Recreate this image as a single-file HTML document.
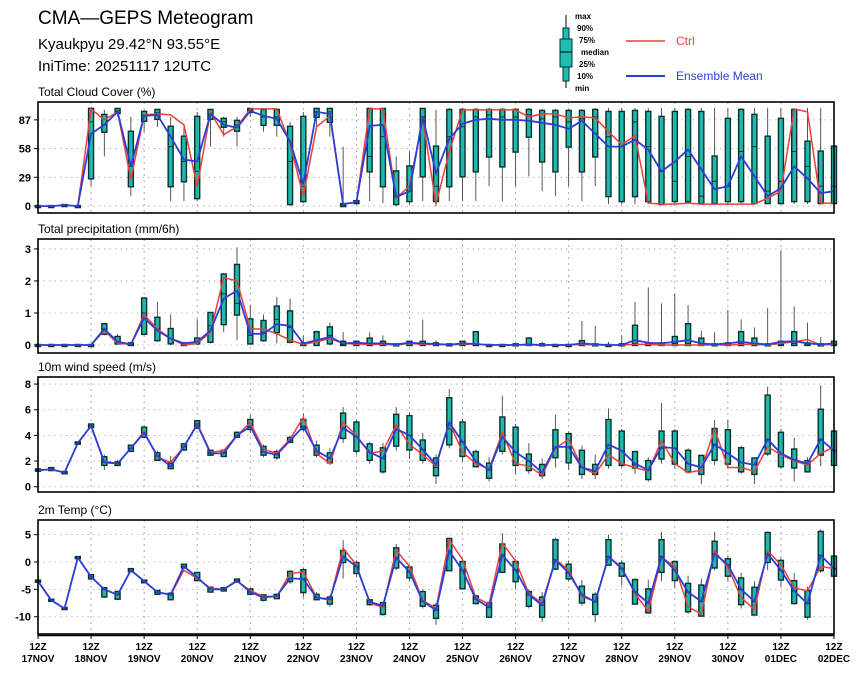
<!DOCTYPE html>
<html><head><meta charset="utf-8">
<style>
html,body{margin:0;padding:0;background:#fff;}
svg{display:block;font-family:"Liberation Sans",sans-serif;}
</style></head>
<body>
<svg id="chart" width="860" height="673" viewBox="0 0 860 673" xmlns="http://www.w3.org/2000/svg">
<text x="38" y="24" font-size="19" fill="#000">CMA—GEPS Meteogram</text>
<text x="38" y="49" font-size="15" fill="#000">Kyaukpyu 29.42°N 93.55°E</text>
<text x="38" y="71" font-size="15" fill="#000">IniTime: 20251117 12UTC</text>
<g>
<line x1="566" y1="15" x2="566" y2="88" stroke="#000" stroke-width="1"/>
<rect x="563" y="28" width="6" height="53" fill="#1fbcb2" stroke="#033" stroke-width="1"/>
<rect x="560" y="39" width="12" height="28" fill="#1fbcb2" stroke="#033" stroke-width="1"/>
<line x1="560" y1="52" x2="572" y2="52" stroke="#000"/>
<text x="575" y="19" font-size="8" font-weight="bold">max</text>
<text x="577" y="31" font-size="8" font-weight="bold">90%</text>
<text x="579" y="43" font-size="8" font-weight="bold">75%</text>
<text x="581" y="55" font-size="8" font-weight="bold">median</text>
<text x="579" y="67" font-size="8" font-weight="bold">25%</text>
<text x="577" y="79" font-size="8" font-weight="bold">10%</text>
<text x="575" y="91" font-size="8" font-weight="bold">min</text>
</g>
<g>
<line x1="626" y1="41" x2="665" y2="41" stroke="#e8403a" stroke-width="1.5"/>
<text x="676" y="45" font-size="12" fill="#e8403a">Ctrl</text>
</g>
<g>
<line x1="626" y1="76" x2="665" y2="76" stroke="#2a3fd8" stroke-width="2"/>
<text x="676" y="80" font-size="12" fill="#2a3fd8">Ensemble Mean</text>
</g>
<g id="panels"></g>
</svg>
<script>
// ---------- DATA ----------
const xLabels = ["17NOV","18NOV","19NOV","20NOV","21NOV","22NOV","23NOV","24NOV","25NOV","26NOV","27NOV","28NOV","29NOV","30NOV","01DEC","02DEC"];
// Total cloud cover (%)
const cloudCtrl = [0,0,1,0,98,87,95,27,92,93,92,82,20,95,72,80,98,98,98,63,10,80,91,2,4,98,98,8,20,88,2,55,97,97,97,97,97,90,93,93,89,90,89,75,62,71,3,2,2,3,2,2,2,2,2,8,15,98,95,3,3];
const cloudMean = [0,0,1,0,73,82,95,40,91,92,70,47,45,93,82,79,96,91,88,65,22,95,93,2,4,81,82,9,15,90,33,68,83,87,88,87,87,86,84,82,78,86,73,60,60,67,57,35,45,57,37,17,20,50,30,10,18,40,28,13,15];
const cloudMin = [0,0,1,0,20,50,90,10,75,80,5,5,5,60,70,60,90,75,70,0,3,80,70,0,2,5,3,0,2,5,0,5,5,5,20,5,20,30,15,10,20,5,20,2,2,2,2,2,2,2,2,2,2,2,2,2,2,2,2,2,2];
const cloudP25 = [0,0,1,0,28,75,94,20,86,88,20,25,8,88,80,76,95,82,82,2,5,90,85,0,3,35,20,2,5,30,5,20,30,35,50,40,55,70,45,35,60,35,50,10,5,10,5,2,5,5,3,3,5,5,3,3,3,5,5,3,3];
const cloudMed = [0,0,1,0,85,82,96,40,92,94,60,45,35,92,85,82,97,90,90,45,20,95,95,1,4,50,70,10,15,90,20,70,80,90,92,90,90,92,88,90,85,88,90,70,60,85,60,35,25,50,10,25,20,55,60,15,25,55,40,20,20];
const cloudP75 = [0,0,1,0,98,92,98,75,95,97,80,70,90,97,88,86,98,97,97,80,90,98,98,2,5,98,98,35,40,98,60,97,97,97,97,97,97,97,96,96,96,96,97,95,95,96,95,90,95,97,95,50,88,97,92,70,88,97,65,55,60];
const cloudMax = [0,0,1,0,100,97,99,90,97,98,90,80,95,98,90,90,99,99,99,85,95,99,99,60,5,99,99,50,55,99,97,99,99,99,99,99,99,99,98,98,98,98,99,99,99,99,99,99,99,99,99,99,99,99,99,99,99,99,99,99,99];
// Total precipitation (mm/6h)
const precCtrl = [0,0,0,0,0,0.45,0.05,0.02,0.95,0.5,0.2,0,0.05,0.4,2.1,2.0,0.5,0.5,0.35,0.15,0.02,0.1,0.2,0.05,0.03,0.02,0.02,0,0.05,0.02,0.02,0.01,0.02,0.03,0,0,0,0,0,0,0,0.02,0,0,0,0.02,0.02,0,0,0,0,0,0,0.02,0.02,0,0.05,0.1,0.17,0,0.02];
const precMean = [0,0,0,0,0,0.5,0.1,0.02,0.85,0.45,0.2,0.05,0.1,0.45,1.45,1.7,0.35,0.35,0.65,0.6,0.05,0.15,0.25,0.05,0.07,0.05,0.05,0.02,0.07,0.05,0.03,0.01,0.05,0.03,0,0,0,0.02,0,0,0,0.05,0.02,0,0,0.15,0.07,0.05,0.1,0.15,0.05,0.02,0.05,0.1,0.05,0.02,0.1,0.12,0.05,0.02,0.05];
const precMin = [0,0,0,0,0,0.3,0,0,0.3,0.1,0,0,0,0.05,0.4,0.15,0,0.1,0.05,0.05,0,0,0,0,0,0,0,0,0,0,0,0,0,0,0,0,0,0,0,0,0,0,0,0,0,0,0,0,0,0,0,0,0,0,0,0,0,0,0,0,0];
const precP25 = [0,0,0,0,0,0.35,0.05,0,0.35,0.15,0.05,0,0.05,0.1,0.65,0.95,0.05,0.15,0.4,0.1,0,0,0.05,0,0,0,0,0,0,0,0,0,0,0,0,0,0,0,0,0,0,0,0,0,0,0,0,0,0,0,0,0,0,0,0,0,0,0,0,0,0];
const precMed = [0,0,0,0,0,0.5,0.1,0.02,1.0,0.5,0.2,0.02,0.1,0.6,1.6,1.3,0.3,0.4,0.8,0.55,0.02,0.15,0.3,0.02,0.05,0.05,0.02,0,0.05,0.02,0.02,0,0.05,0.02,0,0,0,0.02,0,0,0,0.02,0,0,0,0.05,0.02,0,0.05,0.05,0.02,0,0.02,0.05,0.02,0,0.02,0.05,0,0,0.02];
const precP75 = [0,0,0,0,0,0.65,0.25,0.05,1.45,0.85,0.5,0.05,0.2,1.0,2.2,2.5,0.8,0.75,1.2,1.05,0.05,0.4,0.55,0.1,0.1,0.2,0.1,0.02,0.1,0.1,0.05,0.02,0.1,0.4,0,0,0.02,0.2,0.02,0,0,0.12,0.02,0,0.02,0.6,0.05,0.05,0.25,0.65,0.2,0.02,0.05,0.4,0.2,0.02,0.1,0.4,0.05,0.02,0.1];
const precMax = [0,0,0,0,0,0.7,0.35,0.1,1.5,1.35,0.95,0.1,0.8,1.0,2.25,3.05,1.25,0.95,1.5,1.45,0.3,0.45,0.7,0.4,0.1,0.4,0.3,0.05,0.1,0.8,0.15,0.05,0.1,0.4,0.02,0.02,0.05,0.25,0.1,0.02,0.05,0.75,0.6,0.1,0.3,1.35,1.8,1.3,1.6,1.25,0.45,0.4,1.1,0.8,0.55,1.15,2.95,1.2,0.7,0.25,0.1];
// 10m wind speed (m/s)
const windCtrl = [1.3,1.35,1.1,3.4,4.75,2.0,1.8,3.0,4.3,2.3,1.9,3.1,4.9,2.7,2.8,4.0,5.0,2.9,2.6,3.7,5.4,2.6,1.8,5.0,4.0,2.6,2.8,4.8,3.3,2.5,1.6,5.0,2.7,1.8,1.4,4.2,1.8,1.6,0.9,3.0,3.7,1.5,1.0,2.5,1.8,1.5,1.2,3.6,1.8,1.1,1.3,4.5,1.5,1.5,1.2,3.1,2.5,2.0,1.7,2.6,3.1];
const windMean = [1.3,1.35,1.1,3.4,4.75,1.9,1.8,3.0,4.2,2.4,1.6,3.1,4.85,2.6,2.6,4.0,4.7,2.7,2.5,3.6,4.7,2.8,2.2,4.6,3.9,2.7,2.2,4.5,4.0,2.9,1.7,5.0,3.5,2.0,1.3,3.9,2.7,2.0,1.1,3.1,3.1,1.5,1.2,3.3,2.8,1.8,1.3,3.1,3.0,1.8,1.5,3.3,2.6,1.9,1.7,3.7,2.6,2.1,1.8,3.7,2.8];
const windMin = [1.2,1.2,1.0,3.3,4.6,1.3,1.6,2.7,3.8,2.0,1.4,2.8,4.5,2.4,2.3,3.8,4.2,2.3,2.1,3.4,4.3,2.3,1.7,3.4,2.5,1.8,1.0,2.8,2.2,1.8,0.2,3.0,2.0,1.5,0.4,2.5,1.0,1.0,0.6,1.5,1.3,0.6,0.6,1.4,1.5,1.0,0.4,1.8,1.4,1.0,0.2,1.7,1.4,1.0,0.2,2.4,1.4,0.4,1.1,1.6,1.6];
const windP25 = [1.25,1.3,1.05,3.35,4.65,1.7,1.7,2.8,3.9,2.1,1.45,2.9,4.6,2.5,2.4,3.9,4.5,2.5,2.3,3.5,4.5,2.5,1.9,3.8,2.8,2.1,1.2,3.2,2.9,2.1,0.9,3.3,2.4,1.6,0.7,2.8,1.7,1.3,0.9,2.3,1.9,1.0,1.0,1.7,1.7,1.5,0.6,2.2,1.8,1.2,1.0,2.1,1.8,1.2,1.0,2.6,1.6,1.5,1.2,2.5,1.7];
const windMed = [1.3,1.35,1.1,3.4,4.75,1.9,1.8,3.0,4.2,2.4,1.6,3.1,4.9,2.6,2.6,4.0,4.7,2.7,2.5,3.6,4.7,2.7,2.2,4.6,3.9,2.7,2.2,4.5,4.0,2.9,1.5,4.5,3.5,1.9,1.3,3.9,2.7,2.0,1.1,3.0,3.1,1.5,1.2,3.0,2.8,1.7,1.3,3.0,3.0,1.8,1.5,3.3,2.6,1.9,1.7,3.7,2.5,2.1,1.8,3.7,2.8];
const windP75 = [1.35,1.45,1.15,3.45,4.85,2.3,1.9,3.2,4.6,2.6,1.8,3.3,5.1,2.8,2.8,4.2,5.2,3.1,2.7,3.8,5.2,3.2,2.6,5.7,5.0,3.3,3.0,5.6,5.5,3.6,2.2,6.9,5.0,2.7,1.8,5.4,4.6,2.5,1.7,4.4,4.1,2.8,1.7,5.2,4.3,2.7,2.0,4.3,4.3,2.8,2.4,4.5,4.4,3.0,2.2,7.1,4.2,2.9,2.0,6.0,4.3];
const windMax = [1.4,1.5,1.2,3.5,4.9,2.5,2.1,3.3,4.8,2.8,2.4,3.4,5.2,2.9,2.9,4.3,5.6,3.3,2.9,4.0,5.7,3.6,3.0,6.2,5.2,3.5,3.4,6.2,5.8,4.2,2.5,7.6,5.3,2.9,2.3,7.1,4.9,3.4,2.2,5.6,4.3,3.2,2.5,6.1,4.5,2.8,2.3,6.5,4.5,3.0,2.5,5.2,5.2,3.2,2.3,7.8,4.5,3.8,2.3,7.9,4.5];
// 2m temperature (°C)
const tempCtrl = [-3.5,-7.0,-8.5,0.8,-2.7,-5.0,-6.0,-1.5,-3.5,-5.5,-6.0,-1.5,-3.0,-4.8,-5.0,-3.5,-5.2,-6.3,-6.3,-2.1,-1.8,-6.5,-7.0,2.5,-0.5,-7.5,-8.3,2.2,-0.8,-7.0,-8.5,4.0,0.5,-6.5,-7.7,3.5,0.2,-5.8,-7.5,0.5,-1.5,-6.3,-7.2,1.0,-1.0,-5.8,-9.0,0.8,-0.8,-8.2,-9.5,2.0,-1.0,-6.5,-8.7,2.0,-0.5,-4.7,-5.3,-0.8,-1.2];
const tempMean = [-3.5,-7.0,-8.5,0.8,-2.7,-5.0,-6.0,-1.5,-3.5,-5.5,-6.0,-0.8,-2.8,-5.0,-5.0,-3.4,-5.5,-6.5,-6.2,-3.0,-3.1,-6.5,-6.8,1.0,-0.8,-7.3,-8.0,0.8,-1.8,-7.2,-8.8,2.0,-1.5,-6.8,-8.3,1.3,-1.5,-6.0,-7.9,0.4,-2.0,-6.0,-7.3,1.0,-1.2,-5.5,-7.5,1.0,-1.5,-5.5,-7.2,1.5,-0.5,-5.0,-7.2,1.5,-1.5,-5.3,-7.6,1.2,-1.2];
const tempMin = [-3.7,-7.2,-8.7,0.5,-3.2,-6.6,-7.0,-1.8,-3.8,-5.9,-7.0,-1.2,-3.5,-5.6,-5.4,-3.8,-6.0,-7.2,-6.8,-4.0,-6.5,-7.0,-8.2,-3.0,-2.8,-8.0,-9.8,-1.5,-3.5,-8.5,-11.5,-1.7,-5.0,-7.8,-10.3,-2.0,-5.0,-8.5,-11.0,-1.5,-3.5,-8.0,-11.0,-0.5,-4.3,-7.8,-9.5,-3.5,-4.8,-9.5,-10.0,-1.5,-3.5,-8.5,-9.8,-1.5,-4.5,-7.8,-10.5,-2.0,-3.5];
const tempP25 = [-3.6,-7.1,-8.6,0.7,-3.0,-6.3,-6.7,-1.7,-3.7,-5.8,-6.8,-1.0,-3.3,-5.4,-5.2,-3.6,-5.8,-6.9,-6.6,-3.5,-5.5,-6.8,-7.6,0.0,-2.0,-7.7,-9.5,-1.0,-2.8,-8.0,-10.2,-1.5,-4.8,-7.5,-10.0,-1.8,-3.5,-8.0,-10.0,-1.2,-3.0,-7.4,-9.5,-0.5,-2.5,-7.6,-9.2,-1.8,-3.3,-9.0,-9.8,-1.0,-2.5,-7.7,-9.6,0.0,-3.2,-7.5,-10.0,-1.5,-2.5];
const tempMed = [-3.5,-7.0,-8.5,0.8,-2.7,-5.0,-6.0,-1.5,-3.5,-5.5,-6.0,-0.8,-2.8,-5.0,-5.0,-3.4,-5.5,-6.5,-6.2,-3.0,-3.0,-6.5,-6.8,1.0,-0.8,-7.3,-8.0,0.8,-1.8,-7.2,-8.8,2.0,-1.5,-6.8,-8.3,1.3,-1.5,-6.0,-7.9,0.4,-2.0,-6.0,-7.3,1.0,-1.2,-5.5,-7.5,1.0,-1.5,-5.5,-7.2,1.5,-0.5,-5.0,-7.2,1.5,-1.5,-5.3,-7.6,1.2,-1.2];
const tempP75 = [-3.4,-6.9,-8.4,0.9,-2.4,-4.8,-5.5,-1.3,-3.4,-5.3,-5.8,-0.5,-2.0,-4.7,-4.8,-3.2,-5.0,-6.1,-6.0,-1.8,-1.5,-6.0,-6.5,2.0,-0.2,-7.0,-7.5,2.5,-1.0,-5.5,-8.0,4.2,0.0,-6.3,-7.5,3.2,0.0,-5.5,-6.5,4.0,-0.5,-4.5,-6.0,4.0,-0.3,-3.3,-5.0,4.0,0.0,-4.0,-4.3,3.7,0.5,-3.0,-4.7,5.3,0.2,-3.5,-5.3,5.5,1.0];
const tempMax = [-3.3,-6.8,-8.3,1.0,-2.2,-4.6,-5.2,-1.2,-3.3,-5.1,-5.5,-0.3,-1.8,-4.5,-4.7,-3.1,-4.8,-5.9,-5.8,-1.5,-1.0,-5.5,-6.0,4.0,0.3,-6.8,-7.3,3.3,-0.5,-5.0,-7.5,4.5,0.5,-6.0,-7.3,5.3,0.5,-5.0,-5.5,4.5,0.3,-3.3,-5.5,5.0,0.3,-3.0,-3.2,5.5,0.3,-2.5,-3.0,5.5,1.2,-2.0,-3.5,5.6,0.8,-2.0,-4.5,6.0,1.5];

// ---------- DRAWING ----------
const NS = "http://www.w3.org/2000/svg";
const X0 = 38, X1 = 834, NSTEP = 60;
const xScale = i => X0 + (X1 - X0) * i / NSTEP;
const root = document.getElementById('panels');
function mk(tag, attrs, parent) {
  const e = document.createElementNS(NS, tag);
  for (const k in attrs) e.setAttribute(k, attrs[k]);
  (parent || root).appendChild(e);
  return e;
}
const panels = [
  {name:'cloud', title:'Total Cloud Cover (%)', top:102, bot:213, ymin:-7, ymax:105, ticks:[0,29,58,87], ctrl:cloudCtrl, mean:cloudMean, mn:cloudMin, p25:cloudP25, med:cloudMed, p75:cloudP75, mx:cloudMax},
  {name:'precip', title:'Total precipitation (mm/6h)', top:239, bot:353, ymin:-0.25, ymax:3.31, ticks:[0,1,2,3], ctrl:precCtrl, mean:precMean, mn:precMin, p25:precP25, med:precMed, p75:precP75, mx:precMax},
  {name:'wind', title:'10m wind speed (m/s)', top:377, bot:492, ymin:-0.41, ymax:8.55, ticks:[0,2,4,6,8], ctrl:windCtrl, mean:windMean, mn:windMin, p25:windP25, med:windMed, p75:windP75, mx:windMax},
  {name:'temp', title:'2m Temp (°C)', top:520, bot:634, ymin:-13.16, ymax:7.68, ticks:[-10,-5,0,5], ctrl:tempCtrl, mean:tempMean, mn:tempMin, p25:tempP25, med:tempMed, p75:tempP75, mx:tempMax}
];
panels.forEach((p, pi) => {
  const g = mk('g', {});
  
  
  const ys = v => p.bot - (v - p.ymin) / (p.ymax - p.ymin) * (p.bot - p.top);
  const t = mk('text', {x:38, y:p.top - 6, 'font-size':12, fill:'#000'}, g);
  t.textContent = p.title;
  
  
  p.ticks.forEach(v => {
    const gl = mk('line', {x1:X0, x2:X1, y1:ys(v), y2:ys(v), stroke:'#aaa', 'stroke-width':0.8, 'stroke-dasharray':'1.5,4'}, g);
    
    
    const tl = mk('text', {x:31, y:ys(v) + 4, 'font-size':11, 'font-weight':'bold', 'text-anchor':'end'}, g);
    tl.textContent = v;
    
    
    mk('line', {x1:X0 - 4, x2:X0, y1:ys(v), y2:ys(v), stroke:'#000'}, g);
  });
  for (let d = 1; d < xLabels.length - 1; d++) {
    const x = xScale(d * 4);
    const vl = mk('line', {x1:x, x2:x, y1:p.top, y2:p.bot, stroke:'#999', 'stroke-width':0.8, 'stroke-dasharray':'2,4'}, g);
    
    
  }
  for (let i = 0; i <= NSTEP; i++) {
    const x = xScale(i);
    const bg = mk('g', {}, g);
    
    
    mk('line', {x1:x, x2:x, y1:ys(p.mx[i]), y2:ys(p.mn[i]), stroke:'#444', 'stroke-width':0.9}, bg);
    const y1 = ys(p.p75[i]), y2 = ys(p.p25[i]);
    mk('rect', {x:x - 2.5, y:Math.min(y1, y2) - 0.5, width:5, height:Math.max(1, Math.abs(y2 - y1)) + 1, fill:'#1fb8ae', stroke:'#0a302c', 'stroke-width':1.4}, bg);
    mk('line', {x1:x - 2.5, x2:x + 2.5, y1:ys(p.med[i]), y2:ys(p.med[i]), stroke:'#0a302c', 'stroke-width':1}, bg);
  }
  const pts = arr => arr.map((v, i) => xScale(i).toFixed(1) + ',' + ys(v).toFixed(1)).join(' ');
  const lc = mk('polyline', {points:pts(p.ctrl), fill:'none', stroke:'#e8403a', 'stroke-width':1.5}, g);
  
  
  const lm = mk('polyline', {points:pts(p.mean), fill:'none', stroke:'#2a3fd8', 'stroke-width':1.8}, g);
  
  
  const fr = mk('rect', {x:X0, y:p.top, width:X1 - X0, height:p.bot - p.top, fill:'none', stroke:'#000', 'stroke-width':1.6}, g);
  
  
  if (pi === 3) {
    mk('line', {x1:X0, x2:X1, y1:p.bot + 1.5, y2:p.bot + 1.5, stroke:'#000', 'stroke-width':1.5}, g);
    xLabels.forEach((lab, d) => {
      const x = xScale(d * 4);
      mk('line', {x1:x, x2:x, y1:p.bot, y2:p.bot + 5, stroke:'#000'}, g);
      const a = mk('text', {x:x, y:650, 'font-size':10, 'font-weight':'bold', 'text-anchor':'middle'}, g);
      a.textContent = '12Z';
      
      
      const b = mk('text', {x:x, y:662, 'font-size':10, 'font-weight':'bold', 'text-anchor':'middle'}, g);
      b.textContent = lab;
      
      
    });
  }
});
</script>
</body></html>
